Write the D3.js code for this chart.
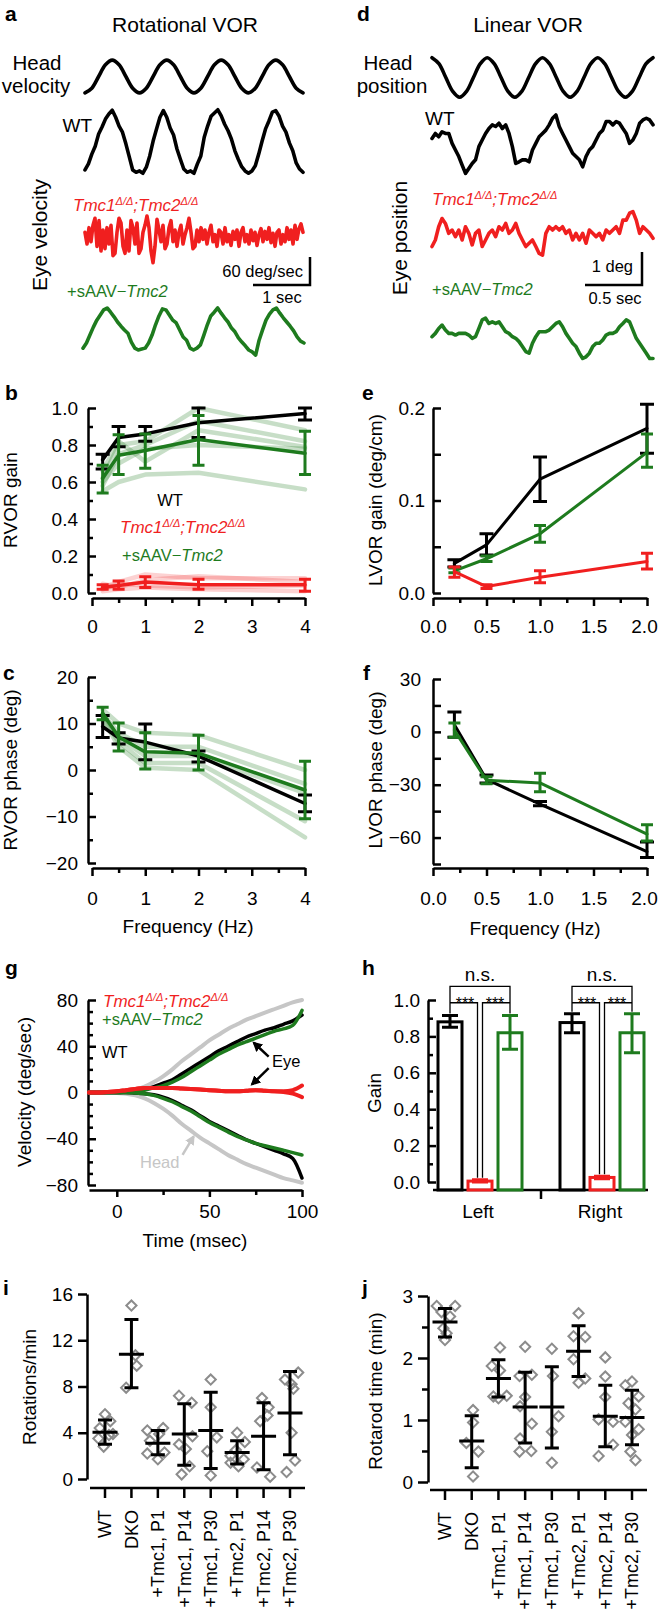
<!DOCTYPE html>
<html>
<head>
<meta charset="utf-8">
<script src="https://cdn.jsdelivr.net/npm/d3@7/dist/d3.min.js"></script>
<style>
  body { margin: 0; background: #fff; }
  svg { display: block; font-family: "Liberation Sans", Arial, Helvetica, sans-serif; }
  .axis path, .axis line { stroke: #000; stroke-width: 2.5; }
  .axis text { font-family: "Liberation Sans", Arial, Helvetica, sans-serif; font-size: 19px; fill: #000; }
</style>
</head>
<body>
<script>
// ---- a: rotational VOR traces (deg/sec, evenly sampled) ----
const rotHead = [-35,-25,0,25,35,25,0,-25, -35,-25,0,25,35,25,0,-25, -35,-25,0,25,35,25,0,-25, -35,-25,0,25,35,25,0,-25, -35];
const rotWT = [-61,-48,-27,-10,16,31,48,59,67,52,33,20,-5,-33,-61,-66,-63,-68,-55,-31,1,27,52,66,52,29,14,-16,-38,-59,-66,-63,-68,-48,-31,9,33,54,61,68,55,37,23,5,-20,-38,-54,-63,-68,-63,-52,-27,1,27,44,63,66,54,33,20,-3,-20,-46,-59,-66];
const rotDKO = [10,-15,20,-10,25, 40,-20,35,-30,15, -25,20,-15,25,-40, -35,10,40,30,-20, -35,15,-30,35,20, -15,30,-35,-25,10, 25,45,20,-30,-55, -20,38,15,-10,25, -25,-15,20,35,-10, 15,-20,10,25,-15, 5,20,40,10,-25, -20,15,-10,20,-5, 15,-15,10,25,-10, 5,-20,15,10,-15, 20,-10,5,-18,12, -5,15,-20,10,20, -10,5,-15,15,-8, 10,-18,5,18,-10, 12,-5,20,-12,8, -20,10,15,-15,5, -10,20,-5,15,-15, 25,-5,18,28,10];
const rotAAV = [-41,-30,-13,4,19,30,41,45,36,26,15,6,-2,-9,-28,-41,-45,-43,-41,-30,-13,9,28,43,41,30,19,13,-2,-17,-24,-41,-45,-41,-34,-13,9,28,36,45,34,24,15,2,-6,-19,-28,-36,-45,-49,-56,-24,-2,19,32,41,45,34,24,15,6,-4,-17,-26,-30];

// ---- d: linear VOR traces (deg, evenly sampled) ----
const linHead = [0.6,0.42,0,-0.42,-0.6,-0.42,0,0.42, 0.6,0.42,0,-0.42,-0.6,-0.42,0,0.42, 0.6,0.42,0,-0.42,-0.6,-0.42,0,0.42, 0.6,0.42,0,-0.42,-0.6,-0.42,0,0.42, 0.6];
const linWT = [0.17,0.32,0.22,0.37,0.32,0.32,0.02,-0.18,-0.38,-0.64,-0.89,-0.74,-0.59,-0.48,-0.08,0.12,0.32,0.47,0.58,0.53,0.63,0.47,0.58,0.32,-0.08,-0.59,-0.54,-0.48,-0.48,-0.54,-0.18,0.02,0.22,0.32,0.42,0.58,0.78,0.88,0.53,0.32,0.12,-0.08,-0.28,-0.38,-0.48,-0.69,-0.38,-0.18,-0.08,0.12,0.32,0.42,0.68,0.68,0.58,0.68,0.63,0.47,0.32,0.02,0.12,0.32,0.63,0.73,0.78,0.73,0.58];
const linDKO = [-0.38,-0.18,0.22,0.47,0.32,0.02,0.12,-0.08,0.12,-0.18,0.22,0.02,-0.33,0.02,0.12,-0.38,-0.18,0.02,0.12,-0.08,0.22,0.12,0.32,0.02,0.12,0.32,0.02,-0.18,-0.38,-0.28,-0.18,-0.38,-0.59,-0.64,0.02,0.22,0.12,0.22,0.12,0.22,0.02,0.12,-0.18,0.02,-0.18,0.02,-0.28,0.12,0.02,-0.08,0.02,-0.18,0.12,0.02,0.12,0.22,0.02,0.42,0.42,0.63,0.68,0.42,0.02,0.22,0.12,0.02,-0.13];
const linAAV = [0.04,0.14,0.29,0.39,0.24,0.14,0.14,0.09,0.14,0.14,0.14,0.09,-0.01,0.04,0.29,0.55,0.6,0.44,0.49,0.44,0.49,0.34,0.19,0.14,0.04,-0.01,-0.11,-0.26,-0.41,-0.46,-0.16,0.04,0.19,0.19,0.19,0.24,0.34,0.44,0.49,0.34,0.14,-0.01,-0.16,-0.26,-0.46,-0.62,-0.57,-0.46,-0.26,-0.16,-0.16,-0.06,0.09,0.14,0.14,0.19,0.34,0.44,0.55,0.49,0.24,-0.01,-0.16,-0.31,-0.46,-0.62,-0.62];

// ---- b: RVOR gain ----
const rFreq = [0.2, 0.5, 1, 2, 4];
const gainWT = [0.72, 0.84, 0.86, 0.92, 0.97];
const gainWTlo = [0.67, 0.79, 0.82, 0.84, 0.935];
const gainWThi = [0.75, 0.90, 0.90, 1.0, 1.0];
const gainDKO = [0.03, 0.04, 0.06, 0.045, 0.045];
const gainDKOlo = [0.02, 0.02, 0.03, 0.02, 0.01];
const gainDKOhi = [0.045, 0.065, 0.088, 0.075, 0.075];
const gainAAV = [0.62, 0.745, 0.77, 0.83, 0.755];
const gainAAVlo = [0.54, 0.64, 0.675, 0.69, 0.64];
const gainAAVhi = [0.69, 0.855, 0.86, 0.96, 0.875];
const gainAAVmice = [[0.62,0.80,0.82,1.0,0.88],[0.58,0.75,0.80,0.93,0.82],[0.66,0.82,0.71,0.88,0.79],[0.60,0.70,0.78,0.80,0.78],[0.55,0.60,0.64,0.65,0.56]];
const gainDKOmice = [[0.03,0.06,0.10,0.08,0.08],[0.05,0.03,0.07,0.09,0.06],[0.02,0.05,0.04,0.03,0.04],[0.01,0.02,0.03,0.02,0.01]];

// ---- c: RVOR phase ----
const phaseWT = [9.3, 6.9, 6.0, 3.0, -7.2];
const phaseWTlo = [7, 5.6, 2.2, 1.7, -9];
const phaseWThi = [11.7, 8, 9.9, 4.1, -5.4];
const phaseAAV = [12.2, 7.1, 3.9, 3.6, -4.3];
const phaseAAVlo = [10.8, 4.1, 0.2, 0, -10.5];
const phaseAAVhi = [13.5, 10.1, 8, 7.5, 1.9];
const phaseAAVmice = [[13,10,8,7.5,0],[12,8,5,5,-3],[12,7,3,3,-5],[11,6,1.5,1.5,-11],[11,5,0.5,0,-14.5]];

// ---- e: LVOR gain ----
const lFreq = [0.2, 0.5, 1, 2];
const lgainWT = [0.032, 0.052, 0.123, 0.178];
const lgainWTlo = [0.028, 0.041, 0.099, 0.151];
const lgainWThi = [0.036, 0.064, 0.147, 0.204];
const lgainAAV = [0.024, 0.037, 0.064, 0.152];
const lgainAAVlo = [0.022, 0.034, 0.055, 0.136];
const lgainAAVhi = [0.027, 0.040, 0.073, 0.172];
const lgainDKO = [0.023, 0.007, 0.017, 0.034];
const lgainDKOlo = [0.017, 0.005, 0.011, 0.026];
const lgainDKOhi = [0.028, 0.009, 0.024, 0.043];

// ---- f: LVOR phase ----
const lphaseWT = [4, -27, -41, -68];
const lphaseWTlo = [-3, -29, -42, -71.3];
const lphaseWThi = [11.3, -24.5, -39.5, -62.5];
const lphaseAAV = [1, -27.5, -29, -58];
const lphaseAAVlo = [-3, -29.5, -34, -62];
const lphaseAAVhi = [5, -25.5, -23.5, -52.7];

// ---- g: velocity step responses ----
const tG = [-15,-10,-5,0,5,10,15,20,25,30,35,40,45,50,55,60,65,70,75,80,85,90,95,100];
const headUp = [0,0,0,0.5,1,2.5,5,9,14,20,27,33,39,45,50,55,59,63,66,69,72,75,78,80];
const headDown = [0,0,0,-0.5,-1,-2.5,-5,-9,-14,-20,-27,-33,-39,-44,-49,-54,-58,-62,-65,-68,-71,-74,-76,-78];
const wtUp = [0,0,0,0,0.5,1,2.5,5,8,11,16,21,26,31,36,40,44,48,51,54,56,59,62,67];
const aavUp = [0,0,0,0,0,0.5,2,4,6,9,13,18,23,28,33,37,41,44,47,50,53,55,58,71];
const dkoA = [0,0,0.5,1,2,3,4,4,4,4,3.5,3,2.5,2,1.5,1,1,1.5,2,1.5,1,1,2,6];
const dkoB = [0,0,0.5,1,2,3,4,4,4,4,3.5,3,2.5,2,1.5,1,1,1.5,2,1.5,1,0.5,-1,-4];
const wtDown = [0,0,0,0,0,-0.5,-1,-2,-4,-7,-11,-15,-20,-25,-29,-33,-37,-41,-44,-47,-50,-53,-57,-74];
const aavDown = [0,0,0,0,0,-0.5,-1,-2.5,-5,-8,-12,-16,-21,-26,-30,-34,-38,-41,-44,-46,-48,-50,-52,-54];

// ---- h: gain by side ----
const sides = ['Left', 'Right'];
const hWT = [0.88, 0.876], hWTlo = [0.85, 0.82], hWThi = [0.915, 0.925];
const hDKO = [0.005, 0.025], hDKOlo = [0.0, 0.018], hDKOhi = [0.012, 0.032];
const hAAV = [0.82, 0.82], hAAVlo = [0.73, 0.71], hAAVhi = [0.915, 0.925];

// ---- i, j: behaviour ----
const groups = ['WT', 'DKO', '+Tmc1, P1', '+Tmc1, P14', '+Tmc1, P30', '+Tmc2, P1', '+Tmc2, P14', '+Tmc2, P30'];
const rotMean = [4.05, 10.8, 3.1, 3.9, 4.2, 2.3, 3.7, 5.7];
const rotLo = [3.0, 7.9, 2.1, 1.2, 0.9, 1.3, 0.8, 2.1];
const rotHi = [5.1, 13.8, 4.2, 6.5, 7.5, 3.3, 6.6, 9.3];
const rotPts = [
  [5.6, 5.0, 4.4, 3.9, 3.5, 3.8, 2.8],
  [15.0, 10.7, 9.8, 7.9],
  [4.4, 4.2, 3.9, 3.3, 2.3, 2.2, 1.7],
  [7.2, 6.6, 3.7, 3.0, 2.6, 1.1, 0.4],
  [8.6, 6.2, 3.6, 2.4, 0.3],
  [4.0, 3.2, 2.5, 2.0, 1.7, 1.4, 1.1],
  [7.0, 6.2, 5.5, 5.0, 1.0, 0.2],
  [9.2, 8.6, 8.2, 7.8, 4.0, 1.6, 0.6]
];
const rotJit = [
  [0, 0.2, -0.2, 0.3, -0.25, 0.15, -0.05],
  [0, 0.15, 0.2, -0.2],
  [0.2, -0.4, 0.05, -0.3, 0.25, -0.4, 0],
  [-0.2, 0.28, 0.31, -0.2, 0.06, 0.2, -0.1],
  [0, 0, 0.23, -0.13, 0],
  [0, 0.29, -0.05, -0.25, 0.25, -0.25, 0.05],
  [-0.06, 0.19, 0.15, -0.13, -0.25, 0.25],
  [0.31, -0.19, 0.06, 0.13, 0.06, 0.19, -0.13]
];
const rodMean = [2.58, 0.66, 1.67, 1.21, 1.21, 2.11, 1.06, 1.04];
const rodLo = [2.34, 0.23, 1.37, 0.63, 0.55, 1.70, 0.57, 0.60];
const rodHi = [2.80, 1.07, 1.97, 1.77, 1.86, 2.52, 1.56, 1.48];
const rodPts = [
  [2.84, 2.84, 2.74, 2.67, 2.48, 2.40, 2.29],
  [1.16, 0.96, 0.63, 0.49, 0.09],
  [2.17, 1.87, 1.80, 1.39, 1.38, 1.35],
  [2.18, 1.73, 1.71, 1.37, 1.22, 0.94, 0.70, 0.49, 0.50],
  [2.15, 1.71, 1.06, 0.81, 0.31],
  [2.72, 2.35, 2.34, 1.98, 1.67, 1.60],
  [2.01, 1.70, 1.37, 1.01, 0.97, 0.60, 0.42],
  [1.62, 1.56, 1.38, 1.27, 1.17, 0.97, 0.85, 0.76, 0.49, 0.35]
];
const rodJit = [
  [-0.31, 0.38, -0.13, 0.19, -0.06, 0.06, 0],
  [0.05, 0.05, -0.2, 0.25, 0.05],
  [0.06, -0.25, 0.06, 0.31, -0.19, 0],
  [0, 0.25, -0.21, 0, -0.19, 0.25, -0.19, -0.21, 0.23],
  [0, 0.04, 0.25, 0, 0],
  [0, -0.19, 0.25, -0.19, 0.25, 0],
  [0, 0, 0, -0.25, 0.29, 0.29, -0.25],
  [0, -0.25, 0.25, -0.13, 0.13, -0.25, 0.25, 0, -0.06, 0.13]
];

const RED = '#f01f1f', GREEN = '#1e7b1e', LIGHT = '#c6c6c6', DIAM = '#8c8c8c';
const AX = 19; // axis title / tick label size

const svg = d3.select('body').append('svg').attr('width', 659).attr('height', 1613);
svg.append('rect').attr('width', 659).attr('height', 1613).attr('fill', '#fff');

function txt(x, y, s, size, o = {}) {
  const t = svg.append('text').attr('x', x).attr('y', y).text(s)
    .style('font-size', size + 'px').attr('fill', o.fill || '#000');
  if (o.anchor) t.attr('text-anchor', o.anchor);
  if (o.bold) t.style('font-weight', 'bold');
  return t;
}
function vtxt(x, y, s, size) {
  return svg.append('text').attr('transform', `translate(${x},${y}) rotate(-90)`)
    .attr('text-anchor', 'middle').style('font-size', size + 'px').text(s);
}
function tmcLabel(x, y, size) {
  const sup = Math.round(size * 0.64);
  const t = svg.append('text').attr('x', x).attr('y', y).attr('fill', RED)
    .style('font-size', size + 'px').style('font-style', 'italic');
  t.append('tspan').text('Tmc1');
  t.append('tspan').attr('dy', -size * 0.38).style('font-size', sup + 'px').text('\u0394/\u0394');
  t.append('tspan').attr('dy', size * 0.38).text(';Tmc2');
  t.append('tspan').attr('dy', -size * 0.38).style('font-size', sup + 'px').text('\u0394/\u0394');
}
function aavLabel(x, y, size) {
  const t = svg.append('text').attr('x', x).attr('y', y).attr('fill', GREEN).style('font-size', size + 'px');
  t.append('tspan').text('+sAAV\u2212');
  t.append('tspan').style('font-style', 'italic').text('Tmc2');
}

function yAxis(scale, x, major, minor, fmt, o) {
  const dir = o.inward ? -1 : 1;
  const g = svg.append('g').attr('class', 'axis').attr('transform', `translate(${x},0)`);
  if (minor) {
    g.append('g').call(d3.axisLeft(scale).tickValues(minor).tickSize(dir * o.mlen).tickFormat(''))
      .call(s => s.select('.domain').remove());
  }
  g.append('g').call(d3.axisLeft(scale).tickValues(major).tickSizeInner(dir * o.len)
    .tickSizeOuter(0).tickPadding(o.pad).tickFormat(fmt));
  return g;
}
function xAxis(scale, y, major, minor, fmt, o) {
  const g = svg.append('g').attr('class', 'axis').attr('transform', `translate(0,${y})`);
  if (minor) {
    g.append('g').call(d3.axisBottom(scale).tickValues(minor).tickSize(o.mlen).tickFormat(''))
      .call(s => s.select('.domain').remove());
  }
  g.append('g').call(d3.axisBottom(scale).tickValues(major).tickSizeInner(o.len)
    .tickSizeOuter(0).tickPadding(o.pad).tickFormat(fmt));
  return g;
}

function trace(vals, xr, yc, unitPx, color, curve) {
  const x = d3.scaleLinear().domain([0, vals.length - 1]).range(xr);
  const y = d3.scaleLinear().domain([-1, 1]).range([yc + unitPx, yc - unitPx]);
  svg.append('path').datum(vals).attr('fill', 'none').attr('stroke', color)
    .attr('stroke-width', 3.6).attr('stroke-linejoin', 'round').attr('stroke-linecap', 'round')
    .attr('d', d3.line().x((d, i) => x(i)).y(d => y(d)).curve(curve || d3.curveLinear));
}

function series(x, y, xs, ys, color, w, op) {
  svg.append('path').datum(ys).attr('fill', 'none').attr('stroke', color)
    .attr('stroke-width', w).attr('stroke-opacity', op == null ? 1 : op)
    .attr('stroke-linejoin', 'round').attr('stroke-linecap', 'round')
    .attr('d', d3.line().x((d, i) => x(xs[i])).y(d => y(d)));
}
function errs(x, y, xs, lo, hi, color, cap, w) {
  svg.append('g').selectAll('path').data(xs).join('path')
    .attr('fill', 'none').attr('stroke', color).attr('stroke-width', w)
    .attr('d', (f, i) => {
      const cx = x(f), a = y(lo[i]), b = y(hi[i]);
      return `M${cx - cap},${a}H${cx + cap}M${cx},${a}V${b}M${cx - cap},${b}H${cx + cap}`;
    });
}

// ================= a =================
txt(5, 21, 'a', 21, { bold: true });
txt(185, 32, 'Rotational VOR', 21, { anchor: 'middle' });
txt(37, 70, 'Head', 20.5, { anchor: 'middle' });
txt(36, 93, 'velocity', 20.5, { anchor: 'middle' });
txt(92, 132, 'WT', 19, { anchor: 'end' });
vtxt(47, 235, 'Eye velocity', 21);
const degA = 28 / 60;   // px per deg/sec
const secA = 57;        // px per sec
trace(rotHead.map(v => v / 60), [85, 303], 76.5, 60 * degA, '#000', d3.curveCatmullRom);
trace(rotWT.map(v => v / 60), [85, 303], 141.5, 60 * degA, '#000');
tmcLabel(73, 211, 17);
trace(rotDKO.map(v => v / 60), [85, 303], 237, 60 * degA, RED);
aavLabel(67, 297, 16.5);
trace(rotAAV.map(v => v / 60), [83, 304], 329, 60 * degA, GREEN);
svg.append('path').attr('fill', 'none').attr('stroke', '#000').attr('stroke-width', 2.5)
  .attr('d', `M310,${285 - 60 * degA}V285H${310 - secA}`);
txt(303, 277, '60 deg/sec', 16.5, { anchor: 'end' });
txt(282, 303, '1 sec', 16.5, { anchor: 'middle' });

// ================= d =================
txt(357, 21, 'd', 21, { bold: true });
txt(528, 32, 'Linear VOR', 21, { anchor: 'middle' });
txt(388, 70, 'Head', 20.5, { anchor: 'middle' });
txt(392, 93, 'position', 20.5, { anchor: 'middle' });
txt(425, 125, 'WT', 19);
vtxt(407, 238, 'Eye position', 21);
const degD = 33;        // px per deg
const secD = 114;       // px per sec
trace(linHead, [432, 653], 77.5, degD, '#000', d3.curveCatmullRom);
trace(linWT, [432, 653], 144, degD, '#000');
tmcLabel(432, 205, 17);
trace(linDKO, [432, 653], 234, degD, RED);
aavLabel(432, 295, 16.5);
trace(linAAV, [432, 653], 338, degD, GREEN);
svg.append('path').attr('fill', 'none').attr('stroke', '#000').attr('stroke-width', 2.5)
  .attr('d', `M642,${285 - degD}V285H${642 - 0.5 * secD}`);
txt(633, 272, '1 deg', 16.5, { anchor: 'end' });
txt(615, 304, '0.5 sec', 16.5, { anchor: 'middle' });

// ================= b =================
txt(5, 400, 'b', 21, { bold: true });
const xB = d3.scaleLinear().domain([0, 4]).range([92, 305]);
const yB = d3.scaleLinear().domain([0, 1]).range([593, 408]);
yAxis(yB, 88, d3.range(0, 1.01, 0.2), d3.range(0.1, 1, 0.2), d3.format('.1f'), { inward: true, len: 8, mlen: 5, pad: 10 });
xAxis(xB, 598, d3.range(0, 5), d3.range(0.5, 4, 1), d3.format('d'), { len: 8, mlen: 5, pad: 14 });
vtxt(17, 500, 'RVOR gain', AX);
gainAAVmice.forEach(m => series(xB, yB, rFreq, m, GREEN, 4.5, 0.25));
gainDKOmice.forEach(m => series(xB, yB, rFreq, m, RED, 4.5, 0.2));
series(xB, yB, rFreq, gainDKO, RED, 3.5);
errs(xB, yB, rFreq, gainDKOlo, gainDKOhi, RED, 6, 3);
series(xB, yB, rFreq, gainWT, '#000', 3.5);
errs(xB, yB, rFreq, gainWTlo, gainWThi, '#000', 7, 3);
series(xB, yB, rFreq, gainAAV, GREEN, 3.5);
errs(xB, yB, rFreq, gainAAVlo, gainAAVhi, GREEN, 6, 3);
txt(170, 506, 'WT', 16.5, { anchor: 'middle' });
tmcLabel(120, 533, 17);
aavLabel(122, 561, 16.5);

// ================= c =================
txt(3, 680, 'c', 21, { bold: true });
const yC = d3.scaleLinear().domain([-20, 20]).range([863, 677]);
yAxis(yC, 88, d3.range(-20, 21, 10), d3.range(-15, 20, 10), d3.format('d'), { inward: true, len: 8, mlen: 5, pad: 10 });
xAxis(xB, 868, d3.range(0, 5), d3.range(0.5, 4, 1), d3.format('d'), { len: 8, mlen: 5, pad: 16 });
vtxt(17, 770, 'RVOR phase (deg)', AX);
txt(188, 933, 'Frequency (Hz)', AX, { anchor: 'middle' });
phaseAAVmice.forEach(m => series(xB, yC, rFreq, m, GREEN, 4.5, 0.25));
series(xB, yC, rFreq, phaseWT, '#000', 3.5);
errs(xB, yC, rFreq, phaseWTlo, phaseWThi, '#000', 7, 3);
series(xB, yC, rFreq, phaseAAV, GREEN, 3.5);
errs(xB, yC, rFreq, phaseAAVlo, phaseAAVhi, GREEN, 6, 3);

// ================= e =================
txt(362, 400, 'e', 21, { bold: true });
const xE = d3.scaleLinear().domain([0, 2]).range([433, 647]);
const yE = d3.scaleLinear().domain([0, 0.2]).range([593, 408]);
yAxis(yE, 433, [0, 0.1, 0.2], [0.05, 0.15], d3.format('.1f'), { inward: true, len: 8, mlen: 8, pad: 8 });
xAxis(xE, 598, d3.range(0, 2.01, 0.5), d3.range(0.25, 2, 0.5), d3.format('.1f'), { len: 8, mlen: 5, pad: 14 })
  .selectAll('.tick text').filter(d => d === 2).attr('dx', -3);
vtxt(382, 500, 'LVOR gain (deg/cm)', AX);
series(xE, yE, lFreq, lgainWT, '#000', 3);
errs(xE, yE, lFreq, lgainWTlo, lgainWThi, '#000', 7, 3);
series(xE, yE, lFreq, lgainAAV, GREEN, 3);
errs(xE, yE, lFreq, lgainAAVlo, lgainAAVhi, GREEN, 6, 3);
series(xE, yE, lFreq, lgainDKO, RED, 3);
errs(xE, yE, lFreq, lgainDKOlo, lgainDKOhi, RED, 6, 3);

// ================= f =================
txt(363, 680, 'f', 21, { bold: true });
const yF = d3.scaleLinear().domain([-75, 30]).range([864, 679]);
yAxis(yF, 433, [30, 0, -30, -60], [15, -15, -45, -75], d3.format('d'), { inward: true, len: 8, mlen: 8, pad: 12 });
xAxis(xE, 868, d3.range(0, 2.01, 0.5), d3.range(0.25, 2, 0.5), d3.format('.1f'), { len: 8, mlen: 5, pad: 16 })
  .selectAll('.tick text').filter(d => d === 2).attr('dx', -3);
vtxt(382, 770, 'LVOR phase (deg)', AX);
txt(535, 935, 'Frequency (Hz)', AX, { anchor: 'middle' });
series(xE, yF, lFreq, lphaseWT, '#000', 3);
errs(xE, yF, lFreq, lphaseWTlo, lphaseWThi, '#000', 7, 3);
series(xE, yF, lFreq, lphaseAAV, GREEN, 3);
errs(xE, yF, lFreq, lphaseAAVlo, lphaseAAVhi, GREEN, 6, 3);

// ================= g =================
txt(5, 975, 'g', 21, { bold: true });
const xG = d3.scaleLinear().domain([-15, 100]).range([89, 302]);
const yG = d3.scaleLinear().domain([-80, 80]).range([1185, 1000]);
yAxis(yG, 88, d3.range(-80, 81, 40), d3.range(-70, 80, 10).filter(v => v % 40 !== 0), d3.format('d'), { inward: true, len: 8, mlen: 5, pad: 10 });
xAxis(xG, 1190, [0, 50, 100], [25, 75], d3.format('d'), { len: 7, mlen: 5, pad: 8 });
vtxt(31, 1092, 'Velocity (deg/sec)', AX);
txt(195, 1247, 'Time (msec)', AX, { anchor: 'middle' });
const lineG = d3.line().x((d, i) => xG(tG[i])).y(d => yG(d)).curve(d3.curveMonotoneX);
function gLine(vals, color, w) {
  svg.append('path').datum(vals).attr('fill', 'none').attr('stroke', color).attr('stroke-width', w)
    .attr('stroke-linecap', 'round').attr('d', lineG);
}
gLine(headUp, LIGHT, 4);
gLine(headDown, LIGHT, 4);
gLine(wtUp, '#000', 3.5);
gLine(wtDown, '#000', 3.5);
gLine(aavUp, GREEN, 3.5);
gLine(aavDown, GREEN, 3.5);
gLine(dkoA, RED, 4);
gLine(dkoB, RED, 4);
tmcLabel(103, 1007, 17);
aavLabel(102, 1025, 16.5);
txt(102, 1058, 'WT', 16.5);
txt(272, 1067, 'Eye', 16.5);
txt(140, 1168, 'Head', 16.5, { fill: LIGHT });
const defs = svg.append('defs');
[['ah', '#000'], ['ahg', LIGHT]].forEach(([id, c]) => {
  defs.append('marker').attr('id', id).attr('viewBox', '0 0 10 10').attr('refX', 8).attr('refY', 5)
    .attr('markerWidth', 4).attr('markerHeight', 4).attr('orient', 'auto')
    .append('path').attr('d', 'M0,0L10,5L0,10z').attr('fill', c);
});
function arrow(t1, v1, t2, v2, color, id) {
  svg.append('line').attr('x1', xG(t1)).attr('y1', yG(v1)).attr('x2', xG(t2)).attr('y2', yG(v2))
    .attr('stroke', color).attr('stroke-width', 2.5).attr('marker-end', `url(#${id})`);
}
arrow(82, 31, 74, 43, '#000', 'ah');
arrow(82, 21, 73, 7, '#000', 'ah');
arrow(35.5, -54, 41.5, -38, LIGHT, 'ahg');

// ================= h =================
txt(362, 975, 'h', 21, { bold: true });
const yH = d3.scaleLinear().domain([0, 1]).range([1182, 1000]);
const xH = d3.scalePoint().domain(sides).range([480, 602]);
const offH = d3.scalePoint().domain(['wt', 'dko', 'aav']).range([-30, 30]);
yAxis(yH, 428, d3.range(0, 1.01, 0.2), d3.range(0.1, 1, 0.2), d3.format('.1f'), { inward: true, len: 8, mlen: 5, pad: 8 });
const gxH = svg.append('g').attr('class', 'axis');
gxH.append('line').attr('x1', 433).attr('x2', 648).attr('y1', 1190).attr('y2', 1190);
gxH.append('line').attr('x1', (xH('Left') + xH('Right')) / 2).attr('x2', (xH('Left') + xH('Right')) / 2).attr('y1', 1190).attr('y2', 1199);
sides.forEach(s => txt(xH(s) - 2, 1218, s, AX, { anchor: 'middle' }));
vtxt(381, 1093, 'Gain', AX);
function barSet(key, vals, lo, hi, color) {
  sides.forEach((s, i) => {
    const cx = xH(s) + offH(key);
    svg.append('rect').attr('x', cx - 12).attr('y', yH(vals[i])).attr('width', 24)
      .attr('height', 1190 - yH(vals[i])).attr('fill', 'none').attr('stroke', color).attr('stroke-width', 3);
    svg.append('path').attr('fill', 'none').attr('stroke', color).attr('stroke-width', 3)
      .attr('d', `M${cx - 8},${yH(lo[i])}H${cx + 8}M${cx},${yH(lo[i])}V${yH(hi[i])}M${cx - 8},${yH(hi[i])}H${cx + 8}`);
  });
}
barSet('wt', hWT, hWTlo, hWThi, '#000');
barSet('dko', hDKO, hDKOlo, hDKOhi, RED);
barSet('aav', hAAV, hAAVlo, hAAVhi, GREEN);
const nsLevel = 1.075, starLevel = 0.985;
sides.forEach((s, i) => {
  const cB = xH(s) + offH('wt'), cR = xH(s) + offH('dko'), cG = xH(s) + offH('aav');
  const p = d3.path();
  p.moveTo(cB, yH(hWThi[i]) - 2); p.lineTo(cB, yH(nsLevel)); p.lineTo(cG, yH(nsLevel)); p.lineTo(cG, yH(hAAVhi[i]) - 2);
  p.moveTo(cB, yH(starLevel)); p.lineTo(cR - 2.5, yH(starLevel)); p.lineTo(cR - 2.5, yH(hDKOhi[i]) - 2);
  p.moveTo(cR + 2.5, yH(hDKOhi[i]) - 2); p.lineTo(cR + 2.5, yH(starLevel)); p.lineTo(cG, yH(starLevel));
  svg.append('path').attr('d', p.toString()).attr('fill', 'none').attr('stroke', '#000').attr('stroke-width', 1.3);
  txt((cB + cG) / 2, yH(nsLevel) - 5, 'n.s.', AX, { anchor: 'middle' });
  txt((cB + cR) / 2, yH(starLevel) + 6, '***', 16, { anchor: 'middle' });
  txt((cR + cG) / 2, yH(starLevel) + 6, '***', 16, { anchor: 'middle' });
});

// ================= i & j =================
function dotPanel(o) {
  const x = d3.scalePoint().domain(groups).range(o.xr);
  const step = x.step();
  yAxis(o.y, o.ax, o.major, o.minor, d3.format('d'), { inward: false, len: o.len, mlen: 6, pad: 5 });
  const gx = svg.append('g').attr('class', 'axis');
  gx.append('line').attr('x1', o.xr[0] - 15).attr('x2', o.xr[1] + 15).attr('y1', o.base).attr('y2', o.base);
  gx.selectAll('.tk').data(groups).join('line').attr('class', 'tk')
    .attr('x1', d => x(d)).attr('x2', d => x(d)).attr('y1', o.base).attr('y2', o.base + 10);
  gx.selectAll('text').data(groups).join('text')
    .attr('transform', d => `translate(${x(d)},${o.base + 22}) rotate(-90)`)
    .attr('text-anchor', 'end').attr('dy', '0.35em').style('font-size', '18px').text(d => d);
  const sym = d3.symbol().type(d3.symbolSquare).size(52);
  groups.forEach((gname, gi) => {
    svg.append('g').selectAll('path').data(o.pts[gi]).join('path')
      .attr('transform', (v, k) => `translate(${x(gname) + o.jit[gi][k] * step},${o.y(v)}) rotate(45)`)
      .attr('d', sym).attr('fill', 'none').attr('stroke', DIAM).attr('stroke-width', 2);
  });
  svg.append('g').selectAll('path').data(groups).join('path')
    .attr('fill', 'none').attr('stroke', '#000').attr('stroke-width', 3)
    .attr('d', (gname, gi) => {
      const cx = x(gname), m = o.y(o.mean[gi]), a = o.y(o.lo[gi]), b = o.y(o.hi[gi]);
      return `M${cx - 12.5},${m}H${cx + 12.5}M${cx - 7},${a}H${cx + 7}M${cx},${a}V${b}M${cx - 7},${b}H${cx + 7}`;
    });
}
txt(3, 1295, 'i', 21, { bold: true });
const yI = d3.scaleLinear().domain([0, 16]).range([1479, 1294]);
dotPanel({ xr: [105, 290], y: yI, ax: 87, major: [0, 4, 8, 12, 16], minor: null, len: 9, base: 1488,
  pts: rotPts, jit: rotJit, mean: rotMean, lo: rotLo, hi: rotHi });
vtxt(36, 1387, 'Rotations/min', AX);

txt(362, 1295, 'j', 21, { bold: true });
const yJ = d3.scaleLinear().domain([0, 3]).range([1482, 1296]);
dotPanel({ xr: [445, 632], y: yJ, ax: 428, major: [0, 1, 2, 3], minor: [0.5, 1.5, 2.5], len: 10, base: 1490,
  pts: rodPts, jit: rodJit, mean: rodMean, lo: rodLo, hi: rodHi });
vtxt(382, 1391, 'Rotarod time (min)', AX);
</script>
</body>
</html>
